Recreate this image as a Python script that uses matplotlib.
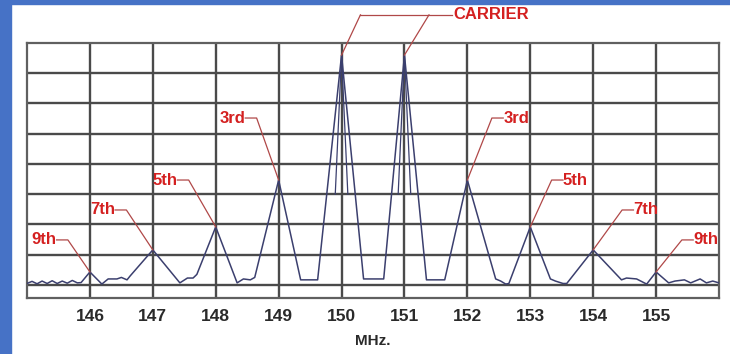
import matplotlib.pyplot as plt
import matplotlib.patches as patches
import numpy as np

# spectrum trace (MHz, grid divisions above the floor line)
freq = [145.0, 145.08, 145.16, 145.24, 145.32, 145.40, 145.48, 145.56, 145.64, 145.72, 145.80, 145.86,
        146.0, 146.19, 146.29, 146.43, 146.50, 146.59, 146.64,
        147.0, 147.43, 147.55, 147.64, 147.70,
        148.0, 148.34, 148.44, 148.55, 148.62,
        149.0, 149.35, 149.62,
        150.0, 150.35, 150.67,
        151.0, 151.35, 151.64,
        152.0, 152.45, 152.53, 152.61, 152.66,
        153.0, 153.32, 153.40, 153.52, 153.58,
        154.0, 154.45, 154.53, 154.69, 154.85,
        155.0, 155.20, 155.30, 155.45, 155.55, 155.70, 155.80, 155.90, 156.0]
level = [0.05, 0.12, 0.04, 0.13, 0.05, 0.14, 0.05, 0.13, 0.06, 0.15, 0.07, 0.08,
         0.43, 0.03, 0.20, 0.20, 0.25, 0.17, 0.30,
         1.16, 0.07, 0.23, 0.23, 0.35,
         1.92, 0.07, 0.20, 0.17, 0.25,
         3.47, 0.17, 0.17,
         7.60, 0.20, 0.20,
         7.60, 0.17, 0.17,
         3.47, 0.20, 0.13, 0.03, 0.05,
         1.92, 0.20, 0.13, 0.05, 0.05,
         1.16, 0.17, 0.23, 0.20, 0.03,
         0.43, 0.07, 0.13, 0.17, 0.07, 0.20, 0.07, 0.13, 0.07]

# inner sweep lines near the carrier tips
carriers = [150.0, 151.0]
inner_half = 0.10
inner_low = 3.0

xticks = list(range(146, 156))

# labels: text, peak frequency, label x, label y, side of the peak
labels = [
    ('9th', 146.0, 145.47, 1.49, 'left'),
    ('7th', 147.0, 146.40, 2.48, 'left'),
    ('5th', 148.0, 147.39, 3.47, 'left'),
    ('3rd', 149.0, 148.47, 5.52, 'left'),
    ('3rd', 152.0, 152.57, 5.52, 'right'),
    ('5th', 153.0, 153.52, 3.47, 'right'),
    ('7th', 154.0, 154.64, 2.48, 'right'),
    ('9th', 155.0, 155.59, 1.49, 'right'),
]

red = '#d42020'
lead = '#b04848'
trace = '#3b3f6e'
gridc = '#4a4a4a'

plt.rcParams['font.family'] = ['Liberation Sans', 'DejaVu Sans']

fig = plt.figure(figsize=(7.3, 3.54), dpi=100)
fig.patches.append(patches.Rectangle((0, 0), 11 / 730, 1, transform=fig.transFigure,
                                     color='#4672c6', zorder=0))
fig.patches.append(patches.Rectangle((0, 1 - 4 / 354), 1, 4 / 354, transform=fig.transFigure,
                                     color='#4672c6', zorder=0))

ax = fig.add_axes([27 / 730, 1 - 298 / 354, 692 / 730, 255 / 354])
ax.set_xlim(145, 156)
ax.set_ylim(-0.43, 8)

ax.set_xticks(xticks)
ax.set_xticklabels([str(t) for t in xticks], fontsize=12.5, fontweight='bold', color='#2a2a2a')
ax.set_yticks(range(0, 8))
ax.set_yticklabels([])
ax.tick_params(length=0, pad=8)
ax.grid(True, color=gridc, lw=1.7)
ax.set_axisbelow(True)
for s in ax.spines.values():
    s.set_color('#606060')
    s.set_linewidth(1.6)

ax.plot(freq, level, color=trace, lw=1.1, zorder=3)
for c in carriers:
    tip = np.interp(c, freq, level)
    ax.plot([c - inner_half, c, c + inner_half], [inner_low, tip, inner_low],
            color=trace, lw=0.9, zorder=3)

ax.set_xlabel('MHz.', fontsize=11, fontweight='bold', color='#2a2a2a', labelpad=7)

# harmonic labels with leader lines
for txt, pf, lx, ly, side in labels:
    py = np.interp(pf, freq, level)
    if side == 'left':
        ax.text(lx, ly, txt, color=red, fontsize=12, fontweight='bold', ha='right', va='center')
        corner = lx + 0.18
    else:
        ax.text(lx, ly, txt, color=red, fontsize=12, fontweight='bold', ha='left', va='center')
        corner = lx - 0.18
    ax.plot([lx, corner, pf], [ly, ly, py], color=lead, lw=0.9, zorder=4, clip_on=False)

# carrier label above the plot
cy = 8.93
ctop = [150.30, 151.39]
ax.text(151.78, cy, 'CARRIER', color=red, fontsize=12, fontweight='bold', ha='left', va='center')
ax.plot([ctop[0], 151.76], [cy, cy], color=lead, lw=0.9, clip_on=False, zorder=4)
for c, t in zip(carriers, ctop):
    ax.plot([t, c], [cy, np.interp(c, freq, level)], color=lead, lw=0.9, clip_on=False, zorder=4)

plt.savefig('out.png', dpi=100)
